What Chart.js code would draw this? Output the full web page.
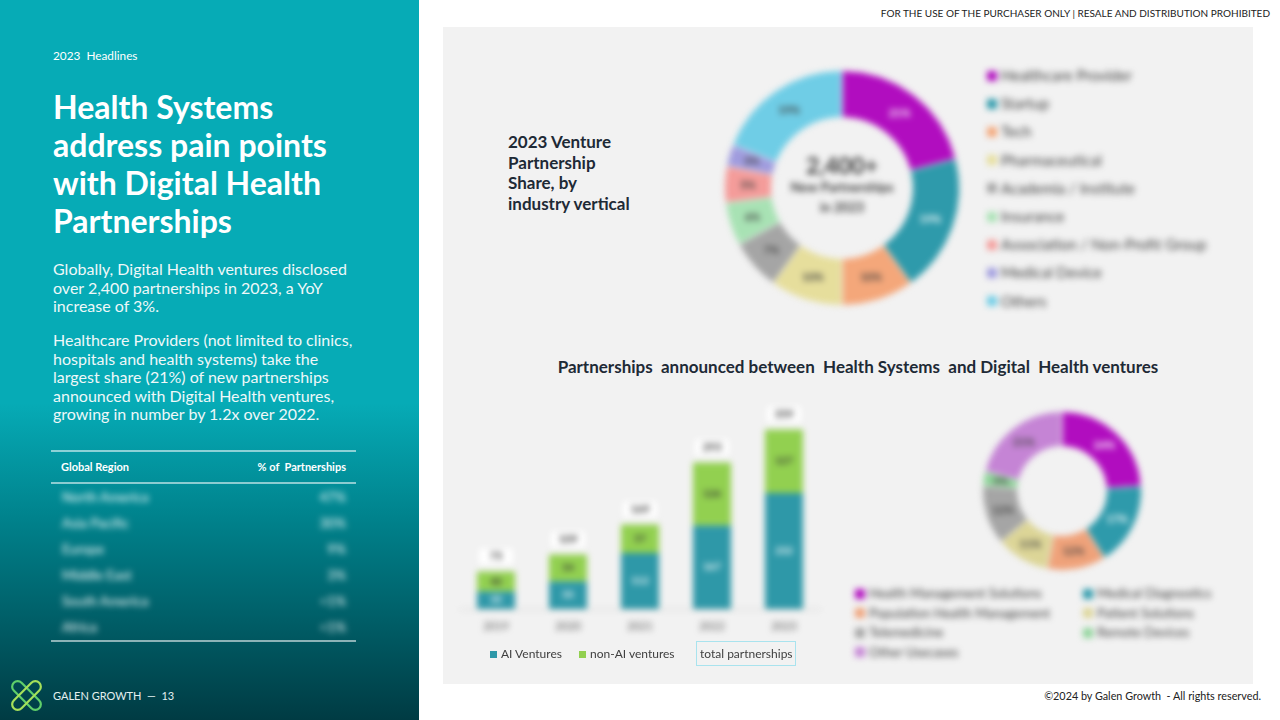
<!DOCTYPE html>
<html>
<head>
<meta charset="utf-8">
<script src="https://cdn.jsdelivr.net/npm/chart.js@4.4.1/dist/chart.umd.min.js"></script>
<style>
  body { margin:0; width:1280px; height:720px; position:relative; overflow:hidden; background:#fff; font-family:Lato,'Open Sans',sans-serif; }
  .abs { position:absolute; white-space:nowrap; }
  #left { left:0; top:0; width:419px; height:720px; background:linear-gradient(180deg,#06abb6 0%,#06abb6 56%,#00828c 72%,#003b43 100%); }
  #panel { left:443px; top:27px; width:810px; height:657px; background:#f2f2f2; }
  .blur { filter:blur(3px); }
  .leg-item { position:absolute; display:flex; align-items:center; white-space:nowrap; color:#404040; }
  .leg-box { display:inline-block; margin-right:4px; }
</style>
</head>
<body>
<div id="left" class="abs"></div>
<div id="panel" class="abs"></div>

<!-- left panel text -->
<div class="abs" style="left:53px;top:49px;font-size:11.8px;line-height:14px;color:#fff;">2023&nbsp; Headlines</div>
<div class="abs" style="left:53px;top:88px;font-size:32px;line-height:38px;font-weight:700;color:#fff;">Health Systems<br>address pain points<br>with Digital Health<br>Partnerships</div>
<div class="abs" style="left:53px;top:260px;font-size:16px;line-height:18.5px;color:#eef8f9;">Globally, Digital Health ventures disclosed<br>over 2,400 partnerships in 2023, a YoY<br>increase of 3%.</div>
<div class="abs" style="left:53px;top:331px;font-size:16px;line-height:18.5px;color:#eef8f9;">Healthcare Providers (not limited to clinics,<br>hospitals and health systems) take the<br>largest share (21%) of new partnerships<br>announced with Digital Health ventures,<br>growing in number by 1.2x over 2022.</div>

<div class="abs" style="left:51px;top:450px;width:305px;height:2px;background:rgba(255,255,255,0.55);"></div>
<div class="abs" style="left:61px;top:460px;font-size:11px;line-height:14px;font-weight:700;color:#fff;">Global Region</div>
<div class="abs" style="left:246px;top:460px;width:100px;text-align:right;font-size:11px;line-height:14px;font-weight:700;color:#fff;">%&nbsp;of&nbsp; Partnerships</div>
<div class="abs" style="left:51px;top:482px;width:305px;height:2px;background:rgba(255,255,255,0.55);"></div>
<div id="regions" class="abs blur" style="left:62px;top:489px;width:284px;"></div>
<div class="abs" style="left:51px;top:640px;width:305px;height:2px;background:rgba(255,255,255,0.55);"></div>

<svg class="abs" style="left:11px;top:680px;" width="31" height="31" viewBox="0 0 31 31">
  <g fill="none" stroke-width="2.2">
    <rect x="-2.5" y="10" width="36" height="11" rx="5.5" transform="rotate(45 15.5 15.5)" stroke="#5fcf6a"/>
    <rect x="-2.5" y="10" width="36" height="11" rx="5.5" transform="rotate(-45 15.5 15.5)" stroke="#a6e05a"/>
  </g>
</svg>
<div class="abs" style="left:53px;top:689px;font-size:11px;line-height:14px;color:#e3f0f0;">GALEN GROWTH &nbsp;—&nbsp; 13</div>

<!-- right side text -->
<div class="abs" style="right:10px;top:7px;font-size:10px;line-height:12px;color:#222;">FOR THE USE OF THE PURCHASER ONLY | RESALE AND DISTRIBUTION PROHIBITED</div>
<div class="abs" style="right:19px;top:689px;font-size:10.8px;line-height:14px;color:#222;">©2024 by Galen Growth &nbsp;- All rights reserved.</div>
<div class="abs" style="left:508px;top:132px;font-size:17px;line-height:20.5px;font-weight:700;color:#1e2a36;">2023 Venture<br>Partnership<br>Share, by<br>industry vertical</div>
<div class="abs" style="left:458px;top:357px;width:800px;text-align:center;font-size:17px;line-height:20px;font-weight:700;color:#1e2a36;">Partnerships&nbsp; announced between&nbsp; Health Systems&nbsp; and Digital&nbsp; Health ventures</div>

<!-- charts -->
<canvas id="donut1" class="abs blur" width="260" height="260" style="left:712px;top:58px;"></canvas>
<div id="legend1" class="abs blur" style="left:0;top:0;"></div>
<canvas id="bars" class="abs blur" width="370" height="250" style="left:455px;top:395px;"></canvas>
<div id="legend2" class="abs" style="left:0;top:0;"></div>
<div class="abs" style="left:696px;top:641px;width:100px;height:25px;border:1px solid #a9e3ee;box-sizing:border-box;"></div>
<canvas id="donut2" class="abs blur" width="180" height="180" style="left:972px;top:401px;"></canvas>
<div id="legend3" class="abs blur" style="left:0;top:0;"></div>

<script>
Chart.defaults.font.family = 'Lato, "Open Sans", sans-serif';

// ---- data ----
const verticals = ['Healthcare Provider', 'Startup', 'Tech', 'Pharmaceutical', 'Academia / Institute', 'Insurance', 'Association / Non-Profit Group', 'Medical Device', 'Others'];
const verticalShare = [21, 19, 10, 10, 7, 6, 5, 3, 19];
const verticalColors = ['#b10dbf', '#2e9aab', '#f4a77a', '#e6de9c', '#a5a5a5', '#a8e2b4', '#f49c9a', '#a09cde', '#6fcde6'];

const years = ['2019', '2020', '2021', '2022', '2023'];
const aiVentures = [35, 55, 112, 167, 232];
const nonAiVentures = [40, 54, 57, 126, 127];
const totalPartnerships = [75, 109, 169, 293, 359];

const solutions = ['Health Management Solutions', 'Medical Diagnostics', 'Population Health Management', 'Patient Solutions', 'Telemedicine', 'Remote Devices', 'Other Usecases'];
const solutionShare = [24, 17, 12, 11, 12, 3, 21];
const solutionColors = ['#b10dbf', '#2e9aab', '#efa27a', '#dcd597', '#a5a5a5', '#8fd49a', '#c584d5'];

const regions = ['North America', 'Asia Pacific', 'Europe', 'Middle East', 'South America', 'Africa'];
const regionShare = ['47%', '30%', '9%', '3%', '<1%', '<1%'];

// region table rows
document.getElementById('regions').innerHTML = regions.map((r, i) =>
  `<div style="display:flex;justify-content:space-between;height:26px;line-height:17px;font-size:13.5px;color:#fff;"><span>${r}</span><span>${regionShare[i]}</span></div>`
).join('');

// labels on doughnut slices
const sliceLabels = {
  id: 'sliceLabels',
  afterDatasetsDraw(chart) {
    const { ctx } = chart;
    const meta = chart.getDatasetMeta(0);
    ctx.save();
    ctx.font = 'bold 11px Lato, sans-serif';
    ctx.textAlign = 'center';
    ctx.textBaseline = 'middle';
    meta.data.forEach((arc, i) => {
      const p = arc.tooltipPosition();
      ctx.fillStyle = i < 2 ? '#ffffff' : '#404040';
      ctx.fillText(chart.data.datasets[0].data[i] + '%', p.x, p.y);
    });
    ctx.restore();
  }
};

const centerText = {
  id: 'centerText',
  afterDatasetsDraw(chart) {
    const { ctx, chartArea } = chart;
    const cx = (chartArea.left + chartArea.right) / 2;
    const cy = (chartArea.top + chartArea.bottom) / 2;
    ctx.save();
    ctx.textAlign = 'center';
    ctx.textBaseline = 'middle';
    ctx.fillStyle = '#3a3a3a';
    ctx.font = 'bold 23px Lato, sans-serif';
    ctx.fillText('2,400+', cx, cy - 21);
    ctx.font = 'bold 13px Lato, sans-serif';
    ctx.fillText('New Partnerships', cx, cy);
    ctx.fillText('in 2023', cx, cy + 20);
    ctx.restore();
  }
};

const donut1 = new Chart(document.getElementById('donut1'), {
  type: 'doughnut',
  data: { labels: verticals, datasets: [{ data: verticalShare, backgroundColor: verticalColors, borderWidth: 1, borderColor: '#f2f2f2' }] },
  options: {
    responsive: false, animation: false, cutout: '60%',
    layout: { padding: 12 },
    plugins: { legend: { display: false }, tooltip: { enabled: false } }
  },
  plugins: [sliceLabels, centerText]
});

const donut2 = new Chart(document.getElementById('donut2'), {
  type: 'doughnut',
  data: { labels: solutions, datasets: [{ data: solutionShare, backgroundColor: solutionColors, borderWidth: 1, borderColor: '#f2f2f2' }] },
  options: {
    responsive: false, animation: false, cutout: '56%',
    layout: { padding: 10 },
    plugins: { legend: { display: false }, tooltip: { enabled: false } }
  },
  plugins: [sliceLabels]
});

// bar segment + total labels
const barLabels = {
  id: 'barLabels',
  afterDatasetsDraw(chart) {
    const { ctx } = chart;
    ctx.save();
    ctx.textAlign = 'center';
    ctx.textBaseline = 'middle';
    ctx.font = 'bold 10px Lato, sans-serif';
    [0, 1].forEach(di => {
      chart.getDatasetMeta(di).data.forEach((bar, i) => {
        const y = (bar.y + bar.base) / 2;
        ctx.fillStyle = di === 0 ? '#ffffff' : '#333333';
        ctx.fillText(chart.data.datasets[di].data[i], bar.x, y);
      });
    });
    ctx.font = 'bold 11px Lato, sans-serif';
    chart.getDatasetMeta(2).data.forEach((pt, i) => {
      ctx.fillStyle = '#ffffff';
      ctx.fillRect(pt.x - 17, pt.y - 23, 34, 16);
      ctx.fillStyle = '#404040';
      ctx.fillText(chart.data.datasets[2].data[i], pt.x, pt.y - 15);
    });
    ctx.restore();
  }
};

const bars = new Chart(document.getElementById('bars'), {
  type: 'bar',
  data: {
    labels: years,
    datasets: [
      { label: 'AI Ventures', data: aiVentures, backgroundColor: '#2e98a8', stack: 'v', barPercentage: 0.66, categoryPercentage: 0.8 },
      { label: 'non-AI ventures', data: nonAiVentures, backgroundColor: '#92d050', stack: 'v', barPercentage: 0.66, categoryPercentage: 0.8 },
      { label: 'total partnerships', data: totalPartnerships, type: 'line', stack: 'total', showLine: false, pointRadius: 0, backgroundColor: 'transparent', borderColor: 'transparent' }
    ]
  },
  options: {
    responsive: false, animation: false,
    layout: { padding: { top: 10, left: 5, right: 5, bottom: 0 } },
    plugins: { legend: { display: false }, tooltip: { enabled: false } },
    scales: {
      x: {
        stacked: true,
        grid: { display: false, drawTicks: false },
        border: { display: true, color: '#d0d0d0' },
        ticks: { padding: 11, color: '#595959', font: { size: 11 } },
        afterFit: s => { s.height = 36; }
      },
      y: { stacked: true, display: false, min: 0, max: 408 }
    }
  },
  plugins: [barLabels]
});

// html legends
function boxItem(color, text, left, top, size, font) {
  return `<div class="leg-item" style="left:${left}px;top:${top}px;font-size:${font}px;line-height:${font + 4}px;">` +
    `<span class="leg-box" style="width:${size}px;height:${size}px;background:${color};"></span>${text}</div>`;
}
document.getElementById('legend1').innerHTML = verticals.map((v, i) =>
  boxItem(verticalColors[i], v, 987, 66 + i * 28.2, 10, 15)).join('');

document.getElementById('legend3').innerHTML = solutions.map((s, i) =>
  boxItem(solutionColors[i], s, i % 2 === 0 ? 855 : 1083, 585 + Math.floor(i / 2) * 19.5, 10, 13)).join('');

const barLegendX = [490, 579, 689];
document.getElementById('legend2').innerHTML = bars.data.datasets.map((d, i) =>
  boxItem(d.backgroundColor, d.label, barLegendX[i], 646, 7, 12)).join('');
</script>
</body>
</html>
